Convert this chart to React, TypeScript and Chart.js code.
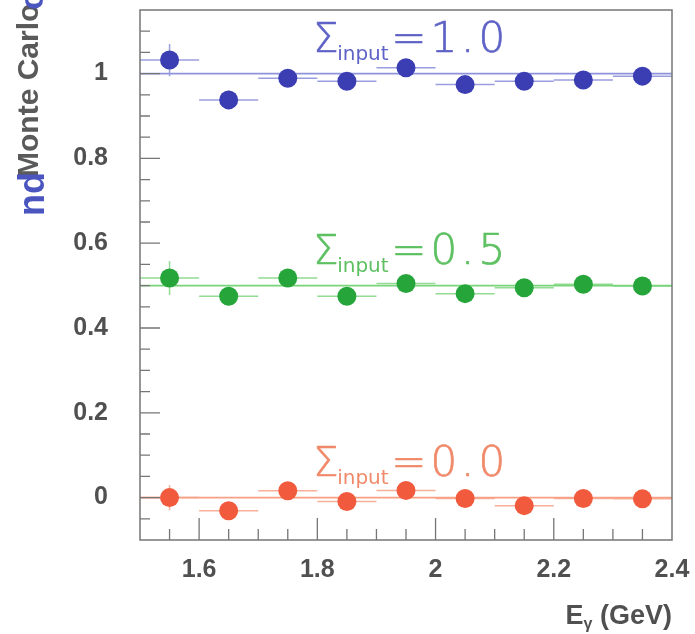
import { useEffect, useRef } from 'react';
import { Chart, registerables } from 'chart.js';

Chart.register(...registerables);

// ---- data ----
const energies = [1.55, 1.65, 1.75, 1.85, 1.95, 2.05, 2.15, 2.25, 2.35];
const binHalfWidths = [0.05, 0.05, 0.05, 0.05, 0.05, 0.05, 0.05, 0.05, 0.05];
const sigmaOut10 = [1.032, 0.938, 0.989, 0.982, 1.014, 0.974, 0.982, 0.985, 0.994];
const sigmaOut05 = [0.518, 0.475, 0.518, 0.475, 0.505, 0.481, 0.495, 0.503, 0.499];
const sigmaOut00 = [0.0, -0.031, 0.016, -0.009, 0.017, -0.002, -0.019, -0.002, -0.003];
const errY10 = [0.038, 0.022, 0.02, 0.02, 0.02, 0.02, 0.02, 0.02, 0.02];
const errY05 = [0.04, 0.022, 0.02, 0.02, 0.02, 0.02, 0.02, 0.02, 0.02];
const errY00 = [0.03, 0.022, 0.02, 0.02, 0.02, 0.02, 0.02, 0.02, 0.02];
const sigmaInputs = [1.0, 0.5, 0.0];
const inputLabels = ['1.0', '0.5', '0.0'];
const xTickValues = [1.6, 1.8, 2.0, 2.2, 2.4];
const xTickLabels = ['1.6', '1.8', '2', '2.2', '2.4'];
const yTickValues = [0, 0.2, 0.4, 0.6, 0.8, 1];
const yTickLabels = ['0', '0.2', '0.4', '0.6', '0.8', '1'];
const xRange = [1.5, 2.4];
const yRange = [-0.1, 1.15];

const seriesValues = [sigmaOut10, sigmaOut05, sigmaOut00];
const seriesErrors = [errY10, errY05, errY00];
const pointColors = ['#3b3db3', '#26a63a', '#f15a3c'];
const lineColors = ['#8f93dc', '#78d478', '#f7a084'];
const errColors = ['#9a9ee0', '#93dc93', '#f8b09a'];
const labelColors = ['#5f63c6', '#5ec062', '#f08a6a'];

const TEXT = '#505050';

const decorPlugin = {
  id: 'decor',
  beforeDatasetsDraw(chart: any) {
    const { ctx, scales } = chart;
    const xs = scales.x, ys = scales.y;
    ctx.save();
    seriesValues.forEach((vals, s) => {
      ctx.strokeStyle = errColors[s];
      ctx.lineWidth = 1.5;
      vals.forEach((v, i) => {
        const x0 = xs.getPixelForValue(energies[i] - binHalfWidths[i]);
        const x1 = xs.getPixelForValue(energies[i] + binHalfWidths[i]);
        const xc = xs.getPixelForValue(energies[i]);
        const y = ys.getPixelForValue(v);
        const ya = ys.getPixelForValue(v + seriesErrors[s][i]);
        const yb = ys.getPixelForValue(v - seriesErrors[s][i]);
        ctx.beginPath();
        ctx.moveTo(x0, y); ctx.lineTo(x1, y);
        ctx.moveTo(xc, ya); ctx.lineTo(xc, yb);
        ctx.stroke();
      });
    });
    ctx.restore();
  },
  afterDraw(chart: any) {
    const { ctx, chartArea, scales } = chart;
    const xs = scales.x, ys = scales.y;
    const { left, right, top, bottom } = chartArea;
    ctx.save();
    // frame
    ctx.strokeStyle = '#767676';
    ctx.lineWidth = 1.5;
    ctx.strokeRect(left, top, right - left, bottom - top);
    // inward ticks
    ctx.lineWidth = 1.3;
    ctx.beginPath();
    for (let k = 1; k < 18; k++) {
      const v = xRange[0] + 0.05 * k;
      const major = Math.abs(v / 0.2 - Math.round(v / 0.2)) < 1e-6;
      const px = xs.getPixelForValue(v);
      ctx.moveTo(px, bottom);
      ctx.lineTo(px, bottom - (major ? 22 : 11));
    }
    for (let k = 1; k < 25; k++) {
      const v = yRange[0] + 0.05 * k;
      const major = Math.abs(v / 0.2 - Math.round(v / 0.2)) < 1e-6;
      const py = ys.getPixelForValue(v);
      ctx.moveTo(left, py);
      ctx.lineTo(left + (major ? 20 : 10), py);
    }
    ctx.stroke();

    // sigma labels
    sigmaInputs.forEach((sv, s) => {
      const x = xs.getPixelForValue(1.793);
      const y = ys.getPixelForValue(sv + 0.05);
      ctx.fillStyle = labelColors[s];
      ctx.strokeStyle = labelColors[s];
      ctx.lineWidth = 0.7;
      ctx.textBaseline = 'alphabetic';
      ctx.textAlign = 'left';
      ctx.font = '200 40px "DejaVu Sans"';
      ctx.fillText('\u03A3', x, y);
      ctx.strokeText('\u03A3', x, y);
      ctx.font = '20px "DejaVu Sans"';
      ctx.fillText('input', x + 24, y + 8);
      ctx.font = '200 42px "DejaVu Sans"';
      (ctx as any).letterSpacing = '4px';
      ctx.fillText('=' + inputLabels[s], x + 78, y);
      ctx.strokeText('=' + inputLabels[s], x + 78, y);
      (ctx as any).letterSpacing = '0px';
    });

    // x title: E_gamma (GeV)
    ctx.fillStyle = TEXT;
    ctx.textBaseline = 'alphabetic';
    ctx.textAlign = 'left';
    const big = 'bold 27px "Liberation Sans"';
    const sub = 'bold 16px "Liberation Sans"';
    ctx.font = big;
    const wE = ctx.measureText('E').width;
    const wRest = ctx.measureText(' (GeV)').width;
    ctx.font = sub;
    const wG = ctx.measureText('\u03B3').width;
    let tx = right - (wE + wG + wRest);
    const ty = 624;
    ctx.font = big; ctx.fillText('E', tx, ty); tx += wE;
    ctx.font = sub; ctx.fillText('\u03B3', tx, ty + 5); tx += wG;
    ctx.font = big; ctx.fillText(' (GeV)', tx, ty);

    // y title (cropped)
    ctx.save();
    ctx.translate(38, 177);
    ctx.rotate(-Math.PI / 2);
    ctx.fillStyle = '#5a5a5a';
    ctx.font = 'bold 30px "Liberation Sans"';
    ctx.fillText('Monte Carlo', 0, 0);
    ctx.restore();
    ctx.save();
    ctx.translate(44, 216);
    ctx.rotate(-Math.PI / 2);
    ctx.fillStyle = '#4a55c0';
    ctx.font = 'bold 36px "Liberation Sans"';
    ctx.fillText('nd', 0, 0);
    ctx.restore();
    ctx.save();
    ctx.translate(43, 10);
    ctx.rotate(-Math.PI / 2);
    ctx.fillStyle = '#4a55c0';
    ctx.font = 'bold 34px "Liberation Sans"';
    ctx.fillText('o', 0, 0);
    ctx.restore();

    ctx.restore();
  },
};

export default function App() {
  const ref = useRef<HTMLCanvasElement>(null);
  useEffect(() => {
    document.body.style.margin = '0';
    document.body.style.background = '#ffffff';
    const datasets: any[] = [];
    sigmaInputs.forEach((sv, s) => {
      datasets.push({
        type: 'line',
        data: [{ x: xRange[0], y: sv }, { x: xRange[1], y: sv }],
        borderColor: lineColors[s],
        borderWidth: 1.8,
        pointRadius: 0,
        order: 3,
      });
    });
    seriesValues.forEach((vals, s) => {
      datasets.push({
        type: 'scatter',
        data: vals.map((v, i) => ({ x: energies[i], y: v })),
        backgroundColor: pointColors[s],
        borderColor: pointColors[s],
        pointRadius: 9.5,
        borderWidth: 0,
        order: 1,
      });
    });
    const chart = new Chart(ref.current!, {
      type: 'scatter',
      data: { datasets },
      plugins: [decorPlugin],
      options: {
        animation: false,
        responsive: false,
        devicePixelRatio: 1,
        layout: { autoPadding: false, padding: { top: 10, right: 23, left: 0, bottom: 0 } },
        plugins: { legend: { display: false }, tooltip: { enabled: false } },
        scales: {
          x: {
            type: 'linear',
            min: xRange[0],
            max: xRange[1],
            afterFit: (s: any) => { s.height = 94; s.paddingLeft = 0; s.paddingRight = 0; },
            afterBuildTicks: (s: any) => { s.ticks = xTickValues.map((v) => ({ value: v })); },
            grid: { display: false, drawTicks: false },
            border: { display: false },
            ticks: {
              padding: 15,
              color: TEXT,
              font: { family: '"Liberation Sans"', size: 25, weight: 'bold' },
              callback: (_v: any, i: number) => xTickLabels[i],
              maxRotation: 0,
            },
          },
          y: {
            type: 'linear',
            min: yRange[0],
            max: yRange[1],
            afterFit: (s: any) => { s.width = 140; s.paddingTop = 0; s.paddingBottom = 0; },
            afterBuildTicks: (s: any) => { s.ticks = yTickValues.map((v) => ({ value: v })); },
            grid: { display: false, drawTicks: false },
            border: { display: false },
            ticks: {
              padding: 32,
              color: TEXT,
              font: { family: '"Liberation Sans"', size: 25, weight: 'bold' },
              callback: (_v: any, i: number) => yTickLabels[i],
            },
          },
        },
      },
    });
    return () => chart.destroy();
  }, []);
  return (
    <div style={{ width: 695, height: 634 }}>
      <canvas ref={ref} width={695} height={634} />
    </div>
  );
}
